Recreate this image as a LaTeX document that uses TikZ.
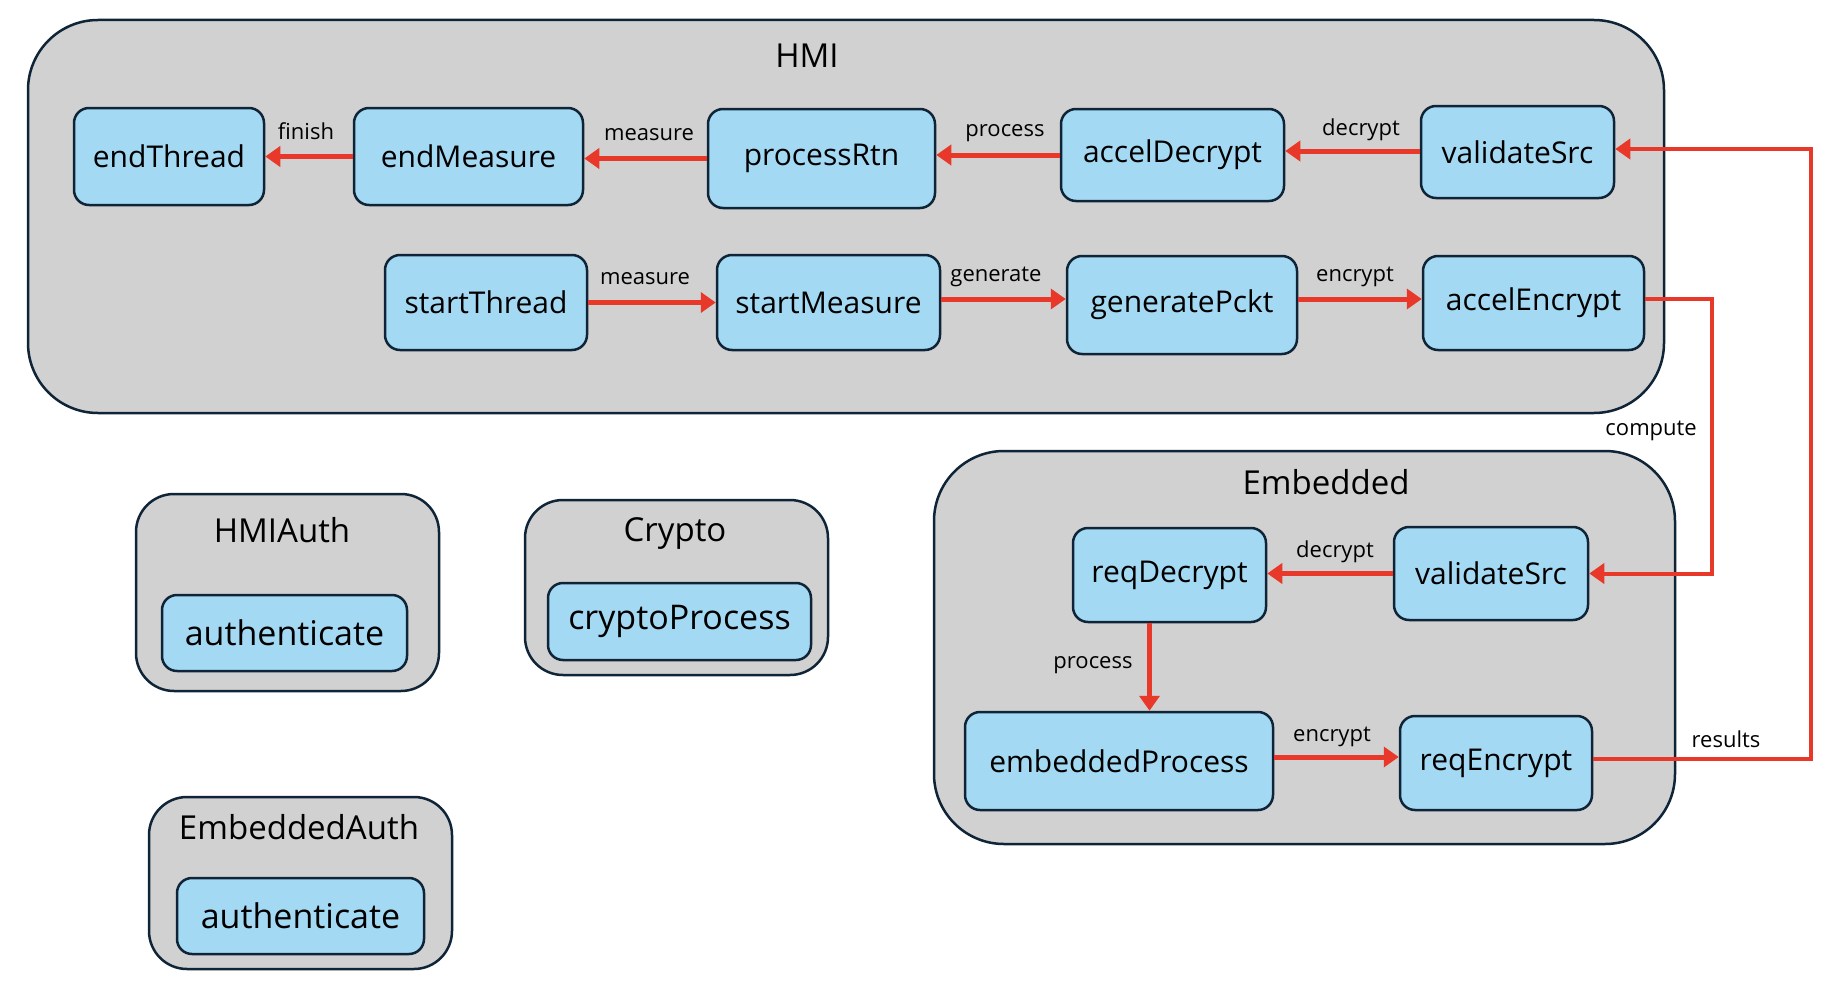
\documentclass[tikz,border=0pt]{standalone}
\usepackage{fontspec}
\setmainfont{Open Sans}
\usetikzlibrary{arrows.meta}
\definecolor{cgray}{HTML}{D1D1D1}
\definecolor{cborder}{HTML}{0F2437}
\definecolor{cblue}{HTML}{A3D9F3}
\definecolor{cred}{HTML}{E8382A}
\tikzset{
  container/.style={draw=cborder, fill=cgray, line width=2.5pt, inner sep=0pt},
  proc/.style={draw=cborder, fill=cblue, line width=2.5pt, rounded corners=15pt, inner sep=0pt,
    font=\fontsize{30}{36}\selectfont},
  bigproc/.style={proc, font=\fontsize{34}{40}\selectfont},
  ttl/.style={inner sep=0pt, font=\fontsize{33}{40}\selectfont},
  lbl/.style={inner sep=0pt, font=\fontsize{22}{26}\selectfont},
  arr/.style={draw=cred, line width=5pt, -{Triangle[length=15pt,width=20pt]}},
  ext/.style={draw=cred, line width=4pt, -{Triangle[length=15pt,width=20pt]}}
}
\begin{document}
\begin{tikzpicture}[x=1pt,y=-1pt]
\useasboundingbox (0,0) rectangle (1840,990);
% containers
\node[container, rounded corners=70pt, minimum width=1636pt, minimum height=393pt] (hmi) at (846,216.5) {};
\node[container, rounded corners=70pt, minimum width=741pt, minimum height=393pt] (emb) at (1304.5,647.5) {};
\node[container, rounded corners=38pt, minimum width=303pt, minimum height=197pt] (hmiauth) at (287.5,592.5) {};
\node[container, rounded corners=38pt, minimum width=303pt, minimum height=175pt] (crypto) at (676.5,587.5) {};
\node[container, rounded corners=38pt, minimum width=303pt, minimum height=172pt] (embauth) at (300.5,883) {};
% titles
\node[ttl] (thmi) at (807,56) {HMI};
\node[ttl] (temb) at (1326,482) {Embedded};
\node[ttl] (thmiauth) at (282,530) {HMIAuth};
\node[ttl] (tcrypto) at (675,534) {Crypto};
\node[ttl] (tembauth) at (299,827) {EmbeddedAuth};
% HMI nodes
\node[proc, minimum width=190pt, minimum height=97pt] (endThread) at (169,156.5) {endThread};
\node[proc, minimum width=229pt, minimum height=97pt] (endMeasure) at (468.5,156.5) {endMeasure};
\node[proc, minimum width=227pt, minimum height=99pt] (processRtn) at (821.5,158.5) {processRtn};
\node[proc, minimum width=223pt, minimum height=92pt] (accelDecrypt) at (1172.5,155) {accelDecrypt};
\node[proc, minimum width=193pt, minimum height=92pt] (vsH) at (1517.5,152) {validateSrc};
\node[proc, minimum width=202pt, minimum height=95pt] (startThread) at (486,302.5) {startThread};
\node[proc, minimum width=223pt, minimum height=95pt] (startMeasure) at (828.5,302.5) {startMeasure};
\node[proc, minimum width=230pt, minimum height=98pt] (generatePckt) at (1182,305) {generatePckt};
\node[proc, minimum width=221pt, minimum height=94pt] (accelEncrypt) at (1533.5,303) {accelEncrypt};
% Embedded nodes
\node[proc, minimum width=193pt, minimum height=94pt] (reqDecrypt) at (1169.5,575) {reqDecrypt};
\node[proc, minimum width=194pt, minimum height=93pt] (vsE) at (1491,573.5) {validateSrc};
\node[proc, minimum width=308pt, minimum height=98pt] (embeddedProcess) at (1119,761) {embeddedProcess};
\node[proc, minimum width=192pt, minimum height=94pt] (reqEncrypt) at (1496,763) {reqEncrypt};
% small boxes
\node[bigproc, minimum width=245pt, minimum height=76pt] (auth1) at (284.5,633) {authenticate};
\node[bigproc, minimum width=263pt, minimum height=77pt] (cryptoProcess) at (679.5,621.5) {cryptoProcess};
\node[bigproc, minimum width=247pt, minimum height=76pt] (auth2) at (300.5,916) {authenticate};
% HMI arrows
\draw[arr] (endMeasure.west) -- (endMeasure.west -| endThread.east);
\draw[arr] (processRtn.west) -- (processRtn.west -| endMeasure.east);
\draw[arr] (accelDecrypt.west) -- (accelDecrypt.west -| processRtn.east);
\draw[arr] ([yshift=1pt]vsH.west) -- ([yshift=1pt]vsH.west -| accelDecrypt.east);
\draw[arr] (startThread.east) -- (startThread.east -| startMeasure.west);
\draw[arr] ([yshift=3.5pt]startMeasure.east) -- ([yshift=3.5pt]startMeasure.east -| generatePckt.west);
\draw[arr] ([yshift=4pt]accelEncrypt.west -| generatePckt.east) -- ([yshift=4pt]accelEncrypt.west);
\node[lbl] (lfinish) at (306,131) {finish};
\node[lbl] (lmeasure1) at (649,135) {measure};
\node[lbl] (lprocess1) at (1005,133) {process};
\node[lbl] (ldecrypt1) at (1361,130) {decrypt};
\node[lbl] (lmeasure2) at (645,279) {measure};
\node[lbl] (lgenerate) at (996,277) {generate};
\node[lbl] (lencrypt1) at (1355,277) {encrypt};
% Embedded arrows
\draw[arr] (vsE.west) -- (vsE.west -| reqDecrypt.east);
\draw[arr] ([xshift=-20pt]reqDecrypt.south) -- ([xshift=-20pt]reqDecrypt.south |- embeddedProcess.north);
\draw[arr] ([yshift=4pt]embeddedProcess.east) -- ([yshift=4pt]embeddedProcess.east -| reqEncrypt.west);
\node[lbl] (ldecrypt2) at (1335,552) {decrypt};
\node[lbl] (lprocess2) at (1093,665) {process};
\node[lbl] (lencrypt2) at (1332,737) {encrypt};
% external connectors
\draw[ext] ([yshift=4pt]accelEncrypt.east) -- ++(67,0) |- (vsE.east);
\draw[ext] ([yshift=4pt]reqEncrypt.east) -- ++(218,0) |- ([yshift=3pt]vsH.east);
\node[lbl, anchor=east] (lcompute) at (1697,431) {compute};
\node[lbl] (lresults) at (1726,739) {results};
\end{tikzpicture}
\end{document}
